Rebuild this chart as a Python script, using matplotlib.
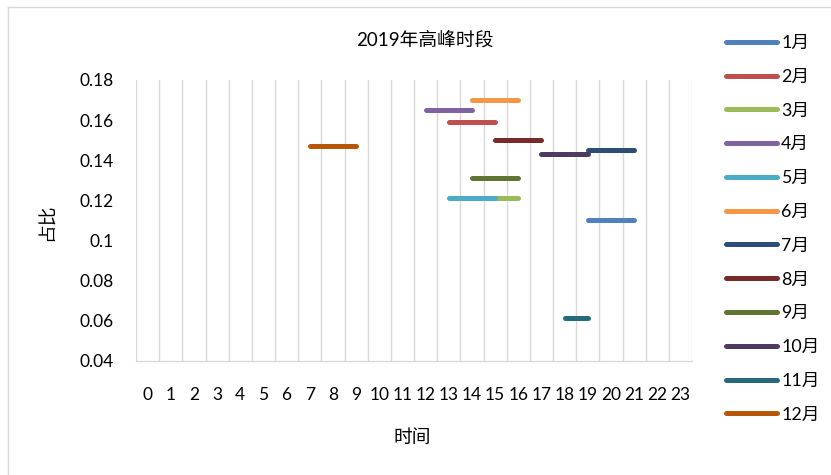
import matplotlib
matplotlib.use('Agg')
import matplotlib.pyplot as plt
from matplotlib.lines import Line2D
import numpy as np

plt.rcParams['font.family'] = ['Lato', 'Noto Sans CJK SC', 'DejaVu Sans']

# ---- data ----
months = ['1月', '2月', '3月', '4月', '5月', '6月', '7月', '8月', '9月', '10月', '11月', '12月']
start_hour = [19, 13, 14, 12, 13, 14, 19, 15, 14, 17, 18, 7]
end_hour = [21, 15, 16, 14, 15, 16, 21, 17, 16, 19, 19, 9]
share = [0.110, 0.159, 0.121, 0.165, 0.121, 0.170, 0.145, 0.150, 0.131, 0.143, 0.061, 0.147]
hours = list(range(24))
y_ticks = [0.04, 0.06, 0.08, 0.1, 0.12, 0.14, 0.16, 0.18]
y_tick_labels = ['0.04', '0.06', '0.08', '0.1', '0.12', '0.14', '0.16', '0.18']
colors = ['#4F81BD', '#C0504D', '#9BBB59', '#8064A2', '#4BACC6', '#F79646',
          '#2C4D75', '#772C2A', '#5F7530', '#4D3B62', '#276A7C', '#B65708']

W, H = 831, 475
fig = plt.figure(figsize=(W / 100, H / 100), dpi=100)
ax = fig.add_axes([136 / W, 1 - 360.5 / H, (692 - 136) / W, (360.5 - 80) / H])

for m, s, e, v, c in zip(months, start_hour, end_hour, share, colors):
    xs = [h for h in hours if s <= h <= e]
    ax.plot(xs, [v] * len(xs), color=c, lw=3.6, solid_capstyle='round', label=m)

ax.set_xlim(-0.5, 23.5)
ax.set_ylim(0.04, 0.18)
ax.set_xticks(hours)
ax.set_xticklabels([str(h) for h in hours])
ax.set_xticks(np.arange(-0.5, 24, 1), minor=True)
ax.set_yticks(y_ticks)
ax.set_yticklabels(y_tick_labels)
ax.grid(which='minor', axis='x', color='#D9D9D9', lw=1)
ax.set_axisbelow(True)
ax.tick_params(which='both', length=0)
ax.tick_params(axis='x', which='major', pad=19, labelsize=12.5, colors='#000000')
ax.tick_params(axis='y', pad=16, labelsize=12.5)
for sp in ['top', 'left', 'right']:
    ax.spines[sp].set_visible(False)
ax.spines['bottom'].set_color('#D9D9D9')
ax.spines['bottom'].set_linewidth(1)

fig.text(425 / W, 1 - 40 / H, '2019年高峰时段', ha='center', va='center', fontsize=13.5)
fig.text(412 / W, 1 - 437 / H, '时间', ha='center', va='center', fontsize=13.5)
fig.text(47 / W, 1 - 222 / H, '占比', ha='center', va='center', fontsize=13.5, rotation=90)

leg = fig.legend(loc='upper left', bbox_to_anchor=(726 / W, 1 - 35 / H), frameon=False,
                 fontsize=12.8, handlelength=2.85, handletextpad=0.25, labelspacing=1.0,
                 borderaxespad=0, borderpad=0)

# chart frame (left and top edges visible)
fig.add_artist(Line2D([8 / W, 8 / W], [0, 1 - 7 / H], color='#D9D9D9', lw=1, transform=fig.transFigure))
fig.add_artist(Line2D([8 / W, 1], [1 - 7 / H, 1 - 7 / H], color='#D9D9D9', lw=1, transform=fig.transFigure))

fig.savefig('out.png', dpi=100)
